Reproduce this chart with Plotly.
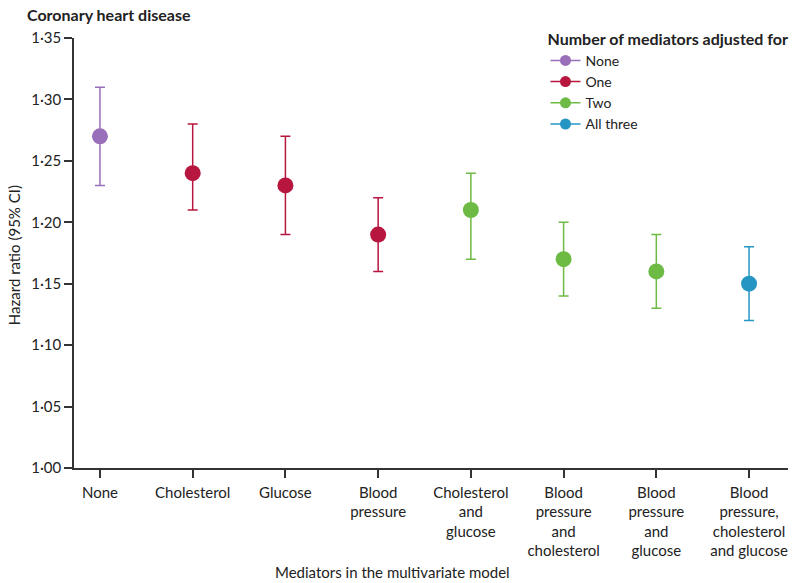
import plotly.graph_objects as go

categories = ["None", "Cholesterol", "Glucose", "Blood<br>pressure",
              "Cholesterol<br>and<br>glucose", "Blood<br>pressure<br>and<br>cholesterol",
              "Blood<br>pressure<br>and<br>glucose", "Blood<br>pressure,<br>cholesterol<br>and glucose"]
hr = [1.27, 1.24, 1.23, 1.19, 1.21, 1.17, 1.16, 1.15]
lower = [1.23, 1.21, 1.19, 1.16, 1.17, 1.14, 1.13, 1.12]
upper = [1.31, 1.28, 1.27, 1.22, 1.24, 1.20, 1.19, 1.18]
group = ["None", "One", "One", "One", "Two", "Two", "Two", "All three"]
groups = ["None", "One", "Two", "All three"]
colors = {"None": "#9a6fba", "One": "#b7173e", "Two": "#6dba44", "All three": "#2596c4"}
ytickvals = [1.00, 1.05, 1.10, 1.15, 1.20, 1.25, 1.30, 1.35]
yticktext = [f"{v:.2f}".replace(".", "·") for v in ytickvals]

FONT = "Lato"
W, H = 793, 583
L, R, T, B = 74, 3, 38, 115
PW, PH = W - L - R, H - T - B

fig = go.Figure()
for g in groups:
    idx = [i for i, gg in enumerate(group) if gg == g]
    fig.add_trace(go.Scatter(
        x=idx, y=[hr[i] for i in idx], mode="markers",
        marker=dict(color=colors[g], size=16),
        error_y=dict(type="data", symmetric=False,
                     array=[upper[i] - hr[i] for i in idx],
                     arrayminus=[hr[i] - lower[i] for i in idx],
                     color=colors[g], thickness=1.5, width=5),
        showlegend=False, hoverinfo="skip"))
for g in groups:
    fig.add_trace(go.Scatter(
        x=[None], y=[None], mode="lines+markers", name=g,
        marker=dict(color=colors[g], size=11),
        line=dict(color=colors[g], width=1.5)))

fig.update_layout(
    width=W, height=H, autosize=False,
    paper_bgcolor="white", plot_bgcolor="white",
    margin=dict(l=L, r=R, t=T, b=B),
    font=dict(family=FONT, size=15, color="#222"),
    xaxis=dict(range=[-0.28, 7.42], tickvals=list(range(len(categories))),
               ticktext=categories, showgrid=False, zeroline=False, automargin=False,
               showline=True, linecolor="#333", linewidth=1.5,
               ticks="outside", ticklen=8, tickcolor="#333", tickwidth=1.5,
               tickfont=dict(size=15), tickangle=0, ticklabelstandoff=2),
    yaxis=dict(range=[1.0, 1.35], tickvals=ytickvals, ticktext=yticktext,
               showgrid=False, zeroline=False, automargin=False,
               showline=True, linecolor="#333", linewidth=1.5,
               ticks="outside", ticklen=8, tickcolor="#333", tickwidth=1.5,
               tickfont=dict(size=15)),
    legend=dict(x=1 + (R - 0.5) / PW, y=1 + 14 / PH, xanchor="right", yanchor="top",
                title=dict(text="<b>Number of mediators adjusted for</b>", font=dict(size=16)),
                font=dict(size=14), bgcolor="rgba(0,0,0,0)", tracegroupgap=0, itemwidth=30),
)
fig.add_annotation(text="<b>Coronary heart disease</b>", xref="paper", yref="paper",
                   x=(25 - L) / PW, y=1 + (T - 15) / PH, xanchor="left", yanchor="middle",
                   showarrow=False, font=dict(size=16))
fig.add_annotation(text="Hazard ratio (95% CI)", xref="paper", yref="paper",
                   x=(14 - L) / PW, y=1 - (255 - T) / PH, xanchor="center", yanchor="middle",
                   textangle=-90, showarrow=False, font=dict(size=15))
fig.add_annotation(text="Mediators in the multivariate model", xref="paper", yref="paper",
                   x=(393 - L) / PW, y=-(572 - T - PH) / PH, xanchor="center", yanchor="middle",
                   showarrow=False, font=dict(size=15))
fig.write_html("out.html", config={"displayModeBar": False},
               post_script="document.body.style.margin='0';document.body.style.padding='0';")
